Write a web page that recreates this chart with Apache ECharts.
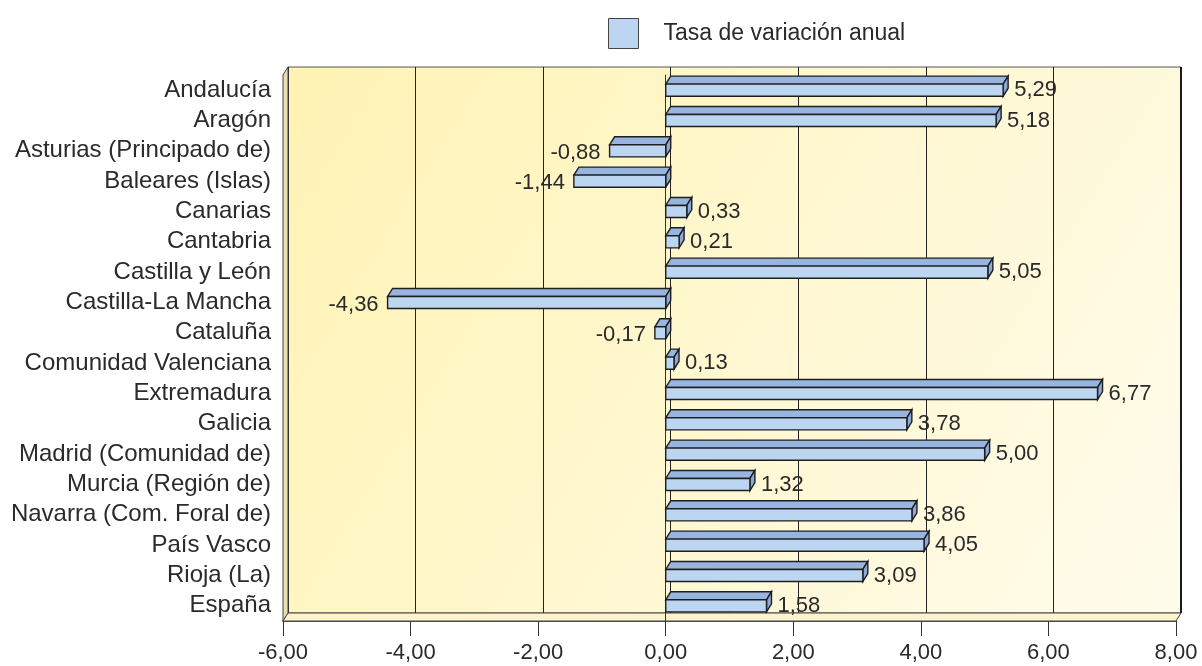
<!DOCTYPE html>
<html>
<head>
<meta charset="utf-8">
<script src="https://cdn.jsdelivr.net/npm/echarts@6/dist/echarts.min.js"></script>
<style>
html,body{margin:0;padding:0;background:#fff;}
#chart{width:1202px;height:666px;}
</style>
</head>
<body>
<div id="chart"></div>
<script>
const categories = [
  'Andalucía','Aragón','Asturias (Principado de)','Baleares (Islas)','Canarias','Cantabria',
  'Castilla y León','Castilla-La Mancha','Cataluña','Comunidad Valenciana','Extremadura','Galicia',
  'Madrid (Comunidad de)','Murcia (Región de)','Navarra (Com. Foral de)','País Vasco','Rioja (La)','España'
];
const values = [5.29, 5.18, -0.88, -1.44, 0.33, 0.21, 5.05, -4.36, -0.17, 0.13, 6.77, 3.78, 5.00, 1.32, 3.86, 4.05, 3.09, 1.58];
const seriesName = 'Tasa de variación anual';
const xMin = -6, xMax = 8, xStep = 2;

// layout (3D frame)
const W = 1202, H = 666;
const L = 283, R = 1176, T = 75, B = 621;   // front plane
const DX = 5, DY = -8;                        // depth offset
const FONT = '"Liberation Sans", Arial, Helvetica, sans-serif';
const TXT = '#2a2a2a';

const fmt = v => v.toFixed(2).replace('.', ',');

const chart = echarts.init(document.getElementById('chart'), null, {renderer: 'canvas'});

const option = {
  animation: false,
  backgroundColor: '#ffffff',
  textStyle: {fontFamily: FONT},
  legend: {
    left: 603, top: 13,
    itemWidth: 30, itemHeight: 30,
    data: [{name: seriesName, icon: 'rect',
      itemStyle: {color: '#bcd6f2', borderColor: '#444', borderWidth: 1}}],
    textStyle: {fontSize: 23, color: TXT, fontFamily: FONT, padding: [0, 0, 0, 20]}
  },
  grid: [
    { // back wall
      left: L + DX, right: W - R - DX, top: T + DY, bottom: H - B - DY,
      show: true, z: 0,
      backgroundColor: new echarts.graphic.LinearGradient(0, 0, 1, 1, [
        {offset: 0, color: '#fff3b4'},
        {offset: 1, color: '#fffcec'}
      ]),
      borderColor: '#555', borderWidth: 1
    },
    { // front plane
      left: L, right: W - R, top: T, bottom: H - B
    }
  ],
  xAxis: [
    {
      gridIndex: 0, type: 'value', min: xMin, max: xMax, interval: xStep,
      axisLine: {show: false}, axisTick: {show: false}, axisLabel: {show: false},
      splitLine: {show: true, lineStyle: {color: '#222', width: 1}}
    },
    {
      gridIndex: 1, type: 'value', min: xMin, max: xMax, interval: xStep,
      axisLine: {show: true, onZero: false, lineStyle: {color: '#1a1a1a', width: 1.5}},
      axisTick: {show: true, inside: false, length: 15, lineStyle: {color: '#333', width: 1}},
      axisLabel: {show: true, fontSize: 22, color: TXT, margin: 21, fontFamily: FONT,
        formatter: v => fmt(v)},
      splitLine: {show: false}
    }
  ],
  yAxis: [
    {
      gridIndex: 0, type: 'category', data: categories, inverse: true,
      axisLine: {show: false}, axisTick: {show: false}, axisLabel: {show: false},
      splitLine: {show: false}
    },
    {
      gridIndex: 1, type: 'category', data: categories, inverse: true,
      axisLine: {show: true, lineStyle: {color: '#555', width: 1}},
      axisTick: {show: false},
      axisLabel: {show: true, interval: 0, fontSize: 24, color: TXT, margin: 12, fontFamily: FONT},
      splitLine: {show: false}
    }
  ],
  graphic: [
    { // left wall
      type: 'polygon', z: 1, silent: true,
      shape: {points: [[L, T], [L + DX, T + DY], [L + DX, B + DY], [L, B]]},
      style: {fill: '#e9dfb0', stroke: '#444', lineWidth: 1}
    },
    { // floor
      type: 'polygon', z: 1, silent: true,
      shape: {points: [[L, B], [L + DX, B + DY], [R + DX, B + DY], [R, B]]},
      style: {fill: '#fcf4cc', stroke: '#444', lineWidth: 1}
    },
    { // right edge of back wall
      type: 'line', z: 1, silent: true,
      shape: {x1: R + DX, y1: T + DY, x2: R + DX, y2: B + DY},
      style: {stroke: '#1a1a1a', lineWidth: 2}
    }
  ],
  series: [
    {
      name: seriesName,
      type: 'custom',
      xAxisIndex: 1, yAxisIndex: 1,
      z: 5,
      itemStyle: {color: '#bcd6f2', borderColor: '#333'},
      data: values.map((v, i) => [v, i]),
      renderItem: function (params, api) {
        const v = api.value(0);
        const c = api.value(1);
        const p0 = api.coord([0, c]);
        const p1 = api.coord([v, c]);
        const hh = api.size([0, 1])[1] * 0.2;
        const x0 = Math.min(p0[0], p1[0]);
        const x1 = Math.max(p0[0], p1[0]);
        const yT = p0[1] - hh, yB = p0[1] + hh;
        const stroke = '#1e1e1e';
        const lw = 1.4;
        const children = [
          {type: 'polygon', shape: {points: [[x0, yT], [x1, yT], [x1 + DX, yT + DY], [x0 + DX, yT + DY]]},
            style: {fill: '#98b5df', stroke: stroke, lineWidth: lw}},
          {type: 'polygon', shape: {points: [[x1, yT], [x1 + DX, yT + DY], [x1 + DX, yB + DY], [x1, yB]]},
            style: {fill: '#8daad6', stroke: stroke, lineWidth: lw}},
          {type: 'rect', shape: {x: x0, y: yT, width: x1 - x0, height: yB - yT},
            style: {fill: '#bcd6f2', stroke: stroke, lineWidth: lw}}
        ];
        const neg = v < 0;
        children.push({
          type: 'text',
          style: {
            text: fmt(v),
            x: neg ? x0 - 9 : x1 + 11,
            y: p0[1] + (neg ? 2 : 0),
            align: neg ? 'right' : 'left',
            verticalAlign: 'middle',
            fontSize: 22, fontFamily: FONT, fill: TXT
          }
        });
        return {type: 'group', children: children};
      },
      markLine: {
        silent: true, symbol: 'none', label: {show: false},
        lineStyle: {color: '#333', width: 1, type: 'solid'},
        data: [{xAxis: 0}]
      }
    }
  ]
};
chart.setOption(option);
</script>
</body>
</html>
